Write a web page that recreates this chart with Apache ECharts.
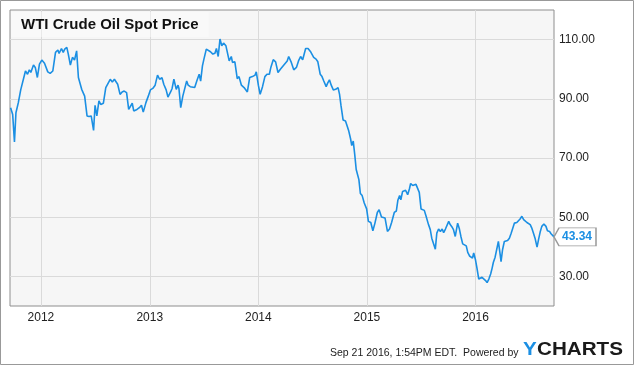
<!DOCTYPE html>
<html><head><meta charset="utf-8">
<script src="https://cdn.jsdelivr.net/npm/echarts@6/dist/echarts.min.js"></script>
<style>html,body{margin:0;padding:0;background:#fff}#c{width:635px;height:366px}</style>
</head><body><div id="c"></div>
<script>
const chartTitle = 'WTI Crude Oil Spot Price';
const yearTicks = ['2012-01-01','2013-01-01','2014-01-01','2015-01-01','2016-01-01'];
const priceTicks = [30, 50, 70, 90, 110];
const axisStart = '2011-09-19';
const axisEnd = '2016-09-21';
const footerText = 'Sep 21 2016, 1:54PM EDT.  Powered by';

const dates = [
'2011-09-21','2011-09-28','2011-10-04','2011-10-09','2011-10-17','2011-10-25','2011-10-30','2011-11-10','2011-11-17','2011-11-23','2011-11-28','2011-12-07','2011-12-13','2011-12-20','2011-12-27',
'2012-01-04','2012-01-13','2012-01-24','2012-02-01','2012-02-10','2012-02-19','2012-02-27','2012-03-02','2012-03-10','2012-03-16','2012-03-21','2012-03-28','2012-04-02','2012-04-09','2012-04-16','2012-04-23','2012-04-30','2012-05-06','2012-05-17','2012-05-27','2012-06-04','2012-06-11','2012-06-18','2012-06-26','2012-07-01','2012-07-07','2012-07-14','2012-07-20','2012-07-29','2012-08-06','2012-08-12','2012-08-21','2012-08-28','2012-09-04','2012-09-10','2012-09-15','2012-09-23','2012-09-30','2012-10-07','2012-10-15','2012-10-22','2012-10-27','2012-11-03','2012-11-08','2012-11-14','2012-11-19','2012-11-27','2012-12-04','2012-12-10','2012-12-19','2012-12-27',
'2013-01-03','2013-01-11','2013-01-19','2013-01-27','2013-02-03','2013-02-11','2013-02-17','2013-02-25','2013-03-03','2013-03-12','2013-03-17','2013-03-23','2013-03-31','2013-04-06','2013-04-09','2013-04-15','2013-04-22','2013-04-27','2013-05-05','2013-05-10','2013-05-17','2013-05-23','2013-06-01','2013-06-08','2013-06-16','2013-06-21','2013-06-27','2013-07-02','2013-07-10','2013-07-16','2013-07-24','2013-08-01','2013-08-08','2013-08-13','2013-08-19','2013-08-25','2013-08-31','2013-09-06','2013-09-14','2013-09-19','2013-09-25','2013-10-02','2013-10-06','2013-10-14','2013-10-22','2013-10-28','2013-11-05','2013-11-14','2013-11-20','2013-11-25','2013-12-03','2013-12-12','2013-12-21','2013-12-25',
'2014-01-01','2014-01-07','2014-01-15','2014-01-23','2014-01-30','2014-02-07','2014-02-12','2014-02-20','2014-02-28','2014-03-08','2014-03-16','2014-03-25','2014-03-30','2014-04-08','2014-04-13','2014-04-21','2014-04-30','2014-05-09','2014-05-16','2014-05-23','2014-05-30','2014-06-09','2014-06-17','2014-06-25','2014-07-06','2014-07-14','2014-07-20','2014-07-28','2014-08-03','2014-08-09','2014-08-17','2014-08-22','2014-08-28','2014-09-03','2014-09-10','2014-09-18','2014-09-26','2014-10-01','2014-10-06','2014-10-13','2014-10-21','2014-10-26','2014-11-01','2014-11-07','2014-11-11','2014-11-16','2014-11-21','2014-11-26','2014-12-02','2014-12-05','2014-12-10','2014-12-16','2014-12-23','2014-12-31',
'2015-01-06','2015-01-14','2015-01-21','2015-01-28','2015-02-05','2015-02-11','2015-02-19','2015-02-25','2015-03-03','2015-03-11','2015-03-18','2015-03-25','2015-04-03','2015-04-10','2015-04-15','2015-04-21','2015-04-25','2015-05-01','2015-05-06','2015-05-11','2015-05-18','2015-05-24','2015-05-28','2015-06-04','2015-06-09','2015-06-15','2015-06-20','2015-06-26','2015-07-02','2015-07-08','2015-07-13','2015-07-19','2015-07-27','2015-08-02','2015-08-07','2015-08-13','2015-08-19','2015-08-24','2015-08-30','2015-09-05','2015-09-11','2015-09-16','2015-09-22','2015-09-28','2015-10-03','2015-10-08','2015-10-14','2015-10-19','2015-10-25','2015-11-02','2015-11-08','2015-11-13','2015-11-19','2015-11-25','2015-12-01','2015-12-06','2015-12-12','2015-12-18','2015-12-22','2015-12-26',
'2016-01-01','2016-01-06','2016-01-12','2016-01-18','2016-01-23','2016-01-29','2016-02-04','2016-02-09','2016-02-15','2016-02-21','2016-02-26','2016-03-01','2016-03-07','2016-03-13','2016-03-18','2016-03-23','2016-03-27','2016-04-01','2016-04-07','2016-04-12','2016-04-18','2016-04-24','2016-04-30','2016-05-05','2016-05-11','2016-05-19','2016-05-24','2016-05-30','2016-06-05','2016-06-11','2016-06-17','2016-06-22','2016-06-28','2016-07-03','2016-07-08','2016-07-14','2016-07-20','2016-07-26','2016-07-31','2016-08-06','2016-08-11','2016-08-18','2016-08-25','2016-08-30','2016-09-06','2016-09-11','2016-09-21'
];

const prices = [
87.0,84.7,75.4,85.3,88.7,93.0,92.6,99.4,98.3,99.8,98.9,101.4,100.6,97.2,101.7,
103.1,102.0,99.1,98.6,99.4,105.7,106.5,105.3,107.0,105.7,106.8,107.4,105.1,101.4,104.0,103.1,106.2,97.2,93.2,90.9,84.2,84.0,84.2,79.3,87.8,84.2,89.3,88.1,88.5,93.8,93.5,96.6,95.7,96.6,96.9,94.9,91.5,92.3,92.6,92.1,86.4,85.9,88.5,85.9,85.5,86.4,87.0,87.8,85.5,88.7,90.9,
93.0,93.5,94.6,98.0,96.6,97.1,94.9,93.0,90.6,92.3,93.5,96.6,93.2,94.6,93.5,87.0,90.9,90.7,96.0,94.6,94.1,93.5,93.8,96.0,98.3,96.0,101.1,103.4,106.8,106.5,105.9,105.1,105.4,107.0,104.3,110.2,107.9,108.8,107.9,108.5,102.8,104.3,102.3,102.5,96.8,97.5,94.6,93.8,93.2,92.3,97.2,97.5,98.0,99.1,
94.6,91.5,94.1,97.5,98.3,98.3,100.6,103.2,102.5,98.9,100.0,101.1,100.6,102.8,104.3,102.5,99.8,100.6,102.8,104.3,103.2,107.0,107.0,106.0,104.0,103.4,102.5,98.3,97.5,96.0,94.1,95.3,96.4,94.6,93.0,93.2,93.8,91.5,87.6,82.8,82.5,81.0,79.1,76.5,74.2,75.7,71.2,66.1,65.9,62.7,58.0,57.3,54.8,52.8,
48.6,48.2,45.4,48.0,51.6,52.5,50.1,49.9,49.7,45.2,46.0,48.2,51.6,52.1,55.7,57.3,55.9,58.7,59.3,59.1,57.6,59.6,61.4,60.7,60.5,61.1,61.0,58.4,52.8,53.1,52.3,50.3,47.5,45.8,42.9,42.4,39.2,44.6,46.0,45.2,46.0,44.8,46.0,45.8,48.6,47.5,46.7,45.8,43.5,48.0,46.0,43.5,41.0,41.0,40.3,38.1,36.9,36.9,36.2,37.9,
35.6,32.8,29.1,28.8,29.7,29.9,28.6,27.9,29.1,30.8,32.8,34.7,36.5,36.5,41.8,38.1,35.0,39.0,41.8,41.5,42.1,42.9,44.6,44.8,48.0,48.2,48.6,49.4,50.3,49.2,48.9,48.2,47.8,47.5,46.4,44.6,42.6,39.9,42.4,45.2,46.9,47.7,46.9,45.4,45.2,44.4,43.34
];

const FONT = '"Liberation Sans", Arial, Helvetica, sans-serif';
const BLUE = '#1b8fe3';
function parseDay(s) { const p = s.split('-').map(Number); return new Date(p[0], p[1] - 1, p[2]).getTime(); }
const tickTimes = yearTicks.map(parseDay);
const seriesData = dates.map((d, i) => [parseDay(d), prices[i]]);
const last = seriesData[seriesData.length - 1];

const chart = echarts.init(document.getElementById('c'), null, { renderer: 'canvas' });
chart.setOption({
  animation: false,
  backgroundColor: '#fff',
  title: {
    text: chartTitle, left: 11, top: 12, padding: [5, 10, 5, 10],
    backgroundColor: 'rgba(255,255,255,0.4)',
    textStyle: { fontFamily: FONT, fontSize: 15, fontWeight: 'bold', color: '#111', lineHeight: 15 }
  },
  grid: {
    left: 10, right: 81, top: 10, bottom: 60, show: true,
    backgroundColor: '#f6f6f6', borderColor: '#8e8e8e', borderWidth: 1,
    outerBoundsMode: 'none'
  },
  xAxis: {
    type: 'value', min: parseDay(axisStart), max: parseDay(axisEnd), scale: true,
    axisLine: { show: false },
    axisTick: { show: false, customValues: tickTimes },
    axisLabel: { customValues: tickTimes, formatter: v => String(new Date(v).getFullYear()),
      color: '#222', fontSize: 12, fontFamily: FONT, margin: 6 },
    splitLine: { show: true, lineStyle: { color: '#dadada', width: 1 } }
  },
  yAxis: {
    type: 'value', position: 'right', min: 20, max: 120,
    axisLine: { show: false },
    axisTick: { show: false, customValues: priceTicks },
    axisLabel: { customValues: priceTicks, formatter: v => v.toFixed(2),
      color: '#222', fontSize: 12, fontFamily: FONT, margin: 5 },
    splitLine: { show: true, lineStyle: { color: '#dadada', width: 1 } }
  },
  series: [{
    type: 'line', data: seriesData, symbol: 'none', showSymbol: false, clip: false,
    lineStyle: { color: BLUE, width: 1.6 }, itemStyle: { color: BLUE },
    markPoint: {
      silent: true, animation: false,
      symbol: 'path://M0,9L5,0L42,0L42,18L5,18Z', symbolSize: [42, 18], symbolOffset: ['50%', 0],
      itemStyle: { color: '#fff', borderColor: '#9a9a9a', borderWidth: 1 },
      label: { show: true, position: 'inside', offset: [2, 0], color: BLUE, fontWeight: 'bold',
        fontSize: 12, fontFamily: FONT, formatter: p => Number(p.value).toFixed(2) },
      data: [{ coord: last, value: last[1] }]
    }
  }],
  graphic: [
    { type: 'rect', silent: true, shape: { x: 0.5, y: 0.5, width: 633, height: 364 },
      style: { fill: 'none', stroke: '#999', lineWidth: 1 } },
    { type: 'text', silent: true, x: 330, y: 353,
      style: { text: footerText, font: '10.5px ' + FONT, fill: '#222', verticalAlign: 'middle' } },
    { type: 'text', silent: true, x: 523, y: 349.5, scaleX: 1.086,
      style: { text: 'Y', font: 'bold 19px ' + FONT, fill: BLUE, verticalAlign: 'middle' } },
    { type: 'text', silent: true, x: 537, y: 349.5, scaleX: 1.086,
      style: { text: 'CHARTS', font: 'bold 19px ' + FONT, fill: '#1a1a1a', verticalAlign: 'middle' } }
  ]
});
</script>
</body></html>
